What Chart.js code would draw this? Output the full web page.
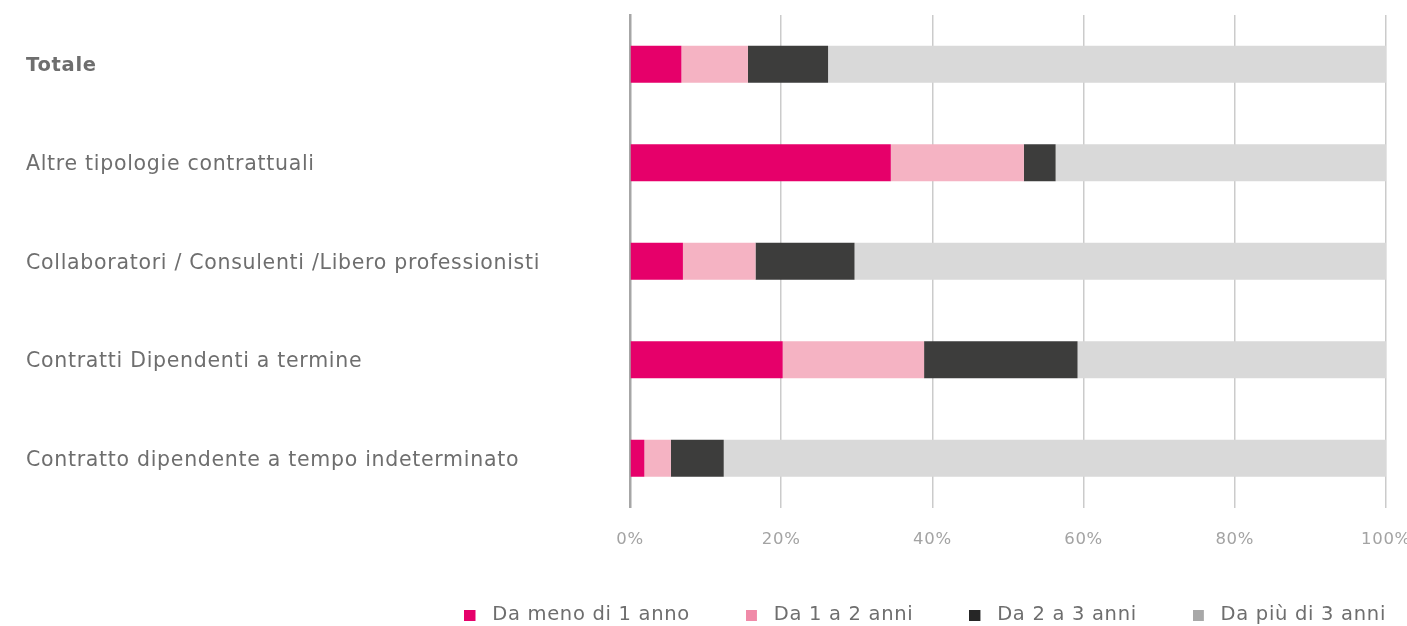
<!DOCTYPE html>
<html>
<head>
<meta charset="utf-8">
<script src="https://cdn.jsdelivr.net/npm/chart.js@4"></script>
<style>
  html, body { margin: 0; padding: 0; background: #ffffff; }
  #wrap { width: 1407px; height: 626px; }
</style>
</head>
<body>
<div id="wrap"><canvas id="chart" width="1407" height="626"></canvas></div>
<script>
// Categories (top to bottom) and shares per seniority band, in percent
const categories = [
  'Totale',
  'Altre tipologie contrattuali',
  'Collaboratori / Consulenti /Libero professionisti',
  'Contratti Dipendenti a termine',
  'Contratto dipendente a tempo indeterminato'
];
const menoDi1Anno = [6.8, 34.5, 7.0, 20.2, 1.9];
const da1a2Anni   = [8.8, 17.6, 9.6, 18.7, 3.5];
const da2a3Anni   = [10.6, 4.2, 13.1, 20.3, 7.0];
const piuDi3Anni  = [73.8, 43.7, 70.3, 40.8, 87.6];

const seriesNames = ['Da meno di 1 anno', 'Da 1 a 2 anni', 'Da 2 a 3 anni', 'Da più di 3 anni'];
const xTicks = [0, 20, 40, 60, 80, 100];

const barColors    = ['#e6006a', '#f5b3c3', '#3d3d3c', '#d9d9d9'];
const legendColors = ['#e6006a', '#f08aa8', '#262626', '#a8a8a8'];

const FONT = '"DejaVu Sans", "Open Sans", sans-serif';
const LETTER_SPACING = '0.7px';

// Legend markers: a small square on the left of a wider transparent canvas,
// so the gap between marker and text is a bit wider than the default.
function marker(color) {
  const c = document.createElement('canvas');
  c.width = 18; c.height = 11;
  const g = c.getContext('2d');
  g.fillStyle = color;
  g.fillRect(0, 0, 11, 11);
  return c;
}
const markers = legendColors.map(marker);

const seriesData = [menoDi1Anno, da1a2Anni, da2a3Anni, piuDi3Anni];
const datasets = seriesData.map((vals, i) => ({
  label: seriesNames[i],
  data: vals,
  backgroundColor: barColors[i],
  borderWidth: 0,
  barPercentage: 1,
  categoryPercentage: 0.376
}));

// Slightly open tracking for all chart text (reset whenever the canvas is resized)
const tracking = {
  id: 'tracking',
  beforeUpdate(chart) { chart.ctx.letterSpacing = LETTER_SPACING; },
  beforeDraw(chart) { chart.ctx.letterSpacing = LETTER_SPACING; }
};

// Push the legend row so its last entry ends flush with the plot's right edge
const legendPlacer = {
  id: 'legendPlacer',
  afterLayout(chart) {
    const lg = chart.legend;
    if (!lg) return;
    lg.right += 35;
  }
};

new Chart(document.getElementById('chart'), {
  type: 'bar',
  data: { labels: categories, datasets },
  plugins: [tracking, legendPlacer],
  options: {
    indexAxis: 'y',
    responsive: false,
    animation: false,
    layout: { padding: { left: 26, right: 0, top: 15, bottom: -9 } },
    scales: {
      x: {
        stacked: true,
        min: 0,
        max: 100,
        afterBuildTicks(scale) {
          scale.ticks = xTicks.map(v => ({ value: v }));
        },
        afterFit(scale) {
          scale.height = 42;
          // let the "100%" label run to the canvas edge
          scale.paddingRight = 21;
        },
        border: { display: false },
        grid: {
          color: '#cbcbcb',
          lineWidth: 1.5,
          drawTicks: false
        },
        ticks: {
          padding: 22,
          color: '#a3a3a3',
          font: { family: FONT, size: 16.5 },
          callback: v => v + '%'
        }
      },
      y: {
        stacked: true,
        afterFit(scale) { scale.width = 604; },
        border: { display: true, color: '#a6a6a6', width: 2.5 },
        grid: { display: false, drawTicks: false },
        ticks: {
          crossAlign: 'far',
          padding: 0,
          labelOffset: 2,
          color: '#6e6e6e',
          font: ctx => ctx.index === 0
            ? { family: FONT, size: 19.5, weight: 'bold' }
            : { family: FONT, size: 20.5, weight: 'normal' }
        }
      }
    },
    plugins: {
      tooltip: { enabled: false },
      legend: {
        position: 'bottom',
        align: 'end',
        labels: {
          usePointStyle: true,
          pointStyleWidth: 18,
          boxHeight: 11,
          padding: 56,
          color: '#6e6e6e',
          font: { family: FONT, size: 19.5 },
          generateLabels(chart) {
            return chart.data.datasets.map((ds, i) => ({
              text: ds.label,
              fillStyle: legendColors[i],
              strokeStyle: legendColors[i],
              lineWidth: 0,
              pointStyle: markers[i],
              fontColor: '#6e6e6e',
              hidden: false,
              datasetIndex: i
            }));
          }
        }
      }
    }
  }
});
</script>
</body>
</html>
